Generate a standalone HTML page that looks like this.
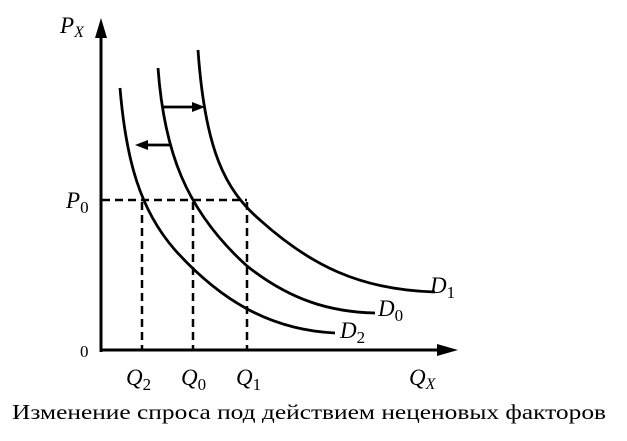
<!DOCTYPE html>
<html><head><style>
body{margin:0;background:#fff;}
svg text{font-family:"Liberation Serif",serif;}
</style></head><body>
<svg width="627" height="436" viewBox="0 0 627 436" xmlns="http://www.w3.org/2000/svg">
<g stroke="#000" fill="none">
<line x1="101" y1="352" x2="101" y2="32" stroke-width="3"/>
<line x1="101" y1="350" x2="440" y2="350" stroke-width="3"/>
<g stroke-width="2.5" stroke-dasharray="8,5">
<line x1="102" y1="200" x2="247" y2="200"/>
<line x1="142" y1="202" x2="142" y2="349"/>
<line x1="193" y1="202" x2="193" y2="349"/>
<line x1="247" y1="202" x2="247" y2="349"/>
</g>
<g stroke-width="2.8">
<path d="M120,88 C126,160 140,210 175,250 C220,300 270,330 335,333"/>
<path d="M158,68 C164,150 185,210 247,266 C290,300 330,312 375,313"/>
<path d="M198,50 C205,150 225,190 260,220 C310,265 360,290 435,292"/>
<line x1="163" y1="107" x2="195" y2="107"/>
<line x1="170" y1="145" x2="145" y2="145"/>
</g>
</g>
<g fill="#000">
<polygon points="101,18 95,38 107,38"/>
<polygon points="458,350 437,344 437,356"/>
<polygon points="205,107 192,102 192,112"/>
<polygon points="135,145 148,140 148,150"/>
</g>
<g font-style="italic" font-size="23">
<text x="60" y="33">P<tspan font-size="16" dy="4">X</tspan></text>
<text x="66" y="208">P<tspan font-size="17" font-style="normal" dy="5">0</tspan></text>
<text x="126" y="385">Q<tspan font-size="17" font-style="normal" dy="5">2</tspan></text>
<text x="181" y="385">Q<tspan font-size="17" font-style="normal" dy="5">0</tspan></text>
<text x="236" y="385">Q<tspan font-size="17" font-style="normal" dy="5">1</tspan></text>
<text x="409" y="385">Q<tspan font-size="16" dy="4">X</tspan></text>
<text x="430" y="293">D<tspan font-size="17" font-style="normal" dy="5">1</tspan></text>
<text x="378" y="316">D<tspan font-size="17" font-style="normal" dy="5">0</tspan></text>
<text x="340" y="338">D<tspan font-size="17" font-style="normal" dy="5">2</tspan></text>
</g>
<text x="80" y="357" font-size="17">0</text>
<text x="12" y="419" font-size="21" textLength="594" lengthAdjust="spacingAndGlyphs">Изменение спроса под действием неценовых факторов</text>
</svg>
</body></html>
